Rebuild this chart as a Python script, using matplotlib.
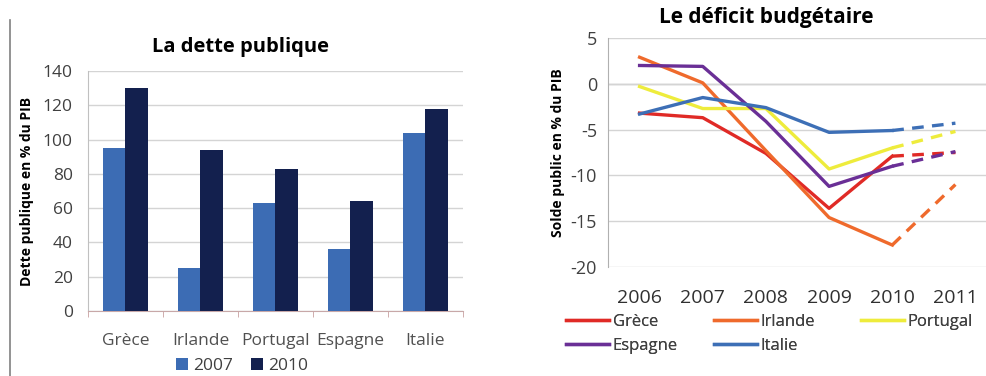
import matplotlib
matplotlib.use("Agg")
import matplotlib.pyplot as plt
import numpy as np
from matplotlib.lines import Line2D

plt.rcParams['font.family'] = ['Open Sans', 'DejaVu Sans']
plt.rcParams['axes.unicode_minus'] = False

# ---- data: public debt ----
countries = ["Grèce", "Irlande", "Portugal", "Espagne", "Italie"]
debt_2007 = [95, 25, 63, 36, 104]
debt_2010 = [130, 94, 83, 64, 118]

# ---- data: budget balance ----
years = ["2006", "2007", "2008", "2009", "2010", "2011"]
series_names = ["Grèce", "Irlande", "Portugal", "Espagne", "Italie"]
grece = [-3.2, -3.7, -7.6, -13.6, -7.9, -7.5]
irlande = [2.9, 0.1, -7.3, -14.6, -17.6, -11.0]
portugal = [-0.3, -2.7, -2.7, -9.3, -7.0, -5.2]
espagne = [2.0, 1.9, -4.1, -11.2, -9.0, -7.4]
italie = [-3.3, -1.5, -2.6, -5.3, -5.1, -4.3]
balances = [grece, irlande, portugal, espagne, italie]
line_colors = ["#e02a26", "#ef6a2c", "#eeec3c", "#6a2f96", "#3d6fb6"]

W, H = 987, 376
fig = plt.figure(figsize=(W/100, H/100), dpi=100)

def rect(l, t, r, b):
    return [l/W, 1-b/H, (r-l)/W, (b-t)/H]

def fx(px):
    return px / W

def fy(py):
    return 1 - py / H

tick_col = "#404040"
grid_col = "#d4d4d4"

# ---- left chart ----
ax1 = fig.add_axes(rect(88, 71, 463, 311))
x = np.arange(len(countries))
bw = 0.295
ax1.bar(x - bw/2, debt_2007, bw, color="#3c6cb4", label="2007", zorder=3)
ax1.bar(x + bw/2, debt_2010, bw, color="#13204e", label="2010", zorder=3)
ax1.set_xlim(-0.5, len(countries)-0.5)
ax1.set_ylim(0, 140)
ax1.set_yticks(range(0, 141, 20))
ax1.yaxis.grid(True, color=grid_col, lw=1, zorder=0)
ax1.set_xticks(x)
ax1.set_xticklabels(countries, fontsize=12.5, color="#505050")
ax1.tick_params(axis='x', length=0, pad=16)
ax1.set_xticks(np.arange(-0.5, len(countries)), minor=True)
ax1.tick_params(axis='x', which='minor', length=4, color="#c8a0a0")
ax1.tick_params(axis='y', length=0, labelsize=12.5, labelcolor=tick_col, pad=11)
for s in ["top", "right"]:
    ax1.spines[s].set_visible(False)
ax1.spines["left"].set_color("#c0c0c0")
ax1.spines["bottom"].set_color("#c8a8a8")
fig.text(fx(241), fy(47), "La dette publique", fontsize=14.5, fontweight="bold",
         ha="center", va="center")
ax1.set_ylabel("Dette publique en % du PIB", fontsize=10, fontweight="bold", labelpad=6)
fig.legend(*ax1.get_legend_handles_labels(), loc="center left",
           bbox_to_anchor=(fx(176), fy(366)), ncol=2, frameon=False,
           fontsize=12.5, handlelength=0.7, handleheight=0.7, handletextpad=0.3,
           columnspacing=1.0, labelcolor="#404040", borderaxespad=0, borderpad=0)

# frame line at left
fig.add_artist(Line2D([10/W, 10/W], [0, 1-20/H], color="#808080", lw=1.2))

# ---- right chart ----
ax2 = fig.add_axes(rect(608, 38, 987, 267))
xi = np.arange(len(years))
handles = {}
for name, vals, c in zip(series_names, balances, line_colors):
    h, = ax2.plot(xi[:5], vals[:5], color=c, lw=2.4, label=name, zorder=3)
    ax2.plot(xi[4:], vals[4:], color=c, lw=2.4, ls=(0, (3.5, 2.5)), zorder=3)
    handles[name] = h
ax2.set_xlim(-0.5, len(years)-0.5)
ax2.set_ylim(-20, 5)
ax2.set_yticks(range(-20, 6, 5))
ax2.yaxis.grid(True, color=grid_col, lw=1, zorder=0)
ax2.axhline(0, color="#b8b8b8", lw=1, zorder=1)
ax2.set_xticks(xi)
ax2.set_xticklabels(years, fontsize=14, color="#303030")
ax2.tick_params(axis='x', length=0, pad=16)
ax2.tick_params(axis='y', length=0, labelsize=13, labelcolor=tick_col, pad=8)
for s in ["top", "right", "bottom"]:
    ax2.spines[s].set_visible(False)
ax2.spines["left"].set_color("#b0b0b0")
fig.text(fx(766), fy(17), "Le déficit budgétaire", fontsize=15, fontweight="bold",
         ha="center", va="center")
ax2.set_ylabel("Solde public en % du PIB", fontsize=10, fontweight="bold", labelpad=4)

legend_cols = [["Grèce", "Espagne"], ["Irlande", "Italie"], ["Portugal"]]
legend_x = [566, 714, 861]
for names, lx in zip(legend_cols, legend_x):
    leg = fig.legend([handles[n] for n in names], names, loc="upper left",
                     bbox_to_anchor=(fx(lx), fy(314)), ncol=1, frameon=False,
                     fontsize=12, handlelength=2.6, handletextpad=0.2,
                     labelspacing=0.45, labelcolor="#404040",
                     borderaxespad=0, borderpad=0)
    fig.add_artist(leg)

fig.savefig("out.png", dpi=100)
